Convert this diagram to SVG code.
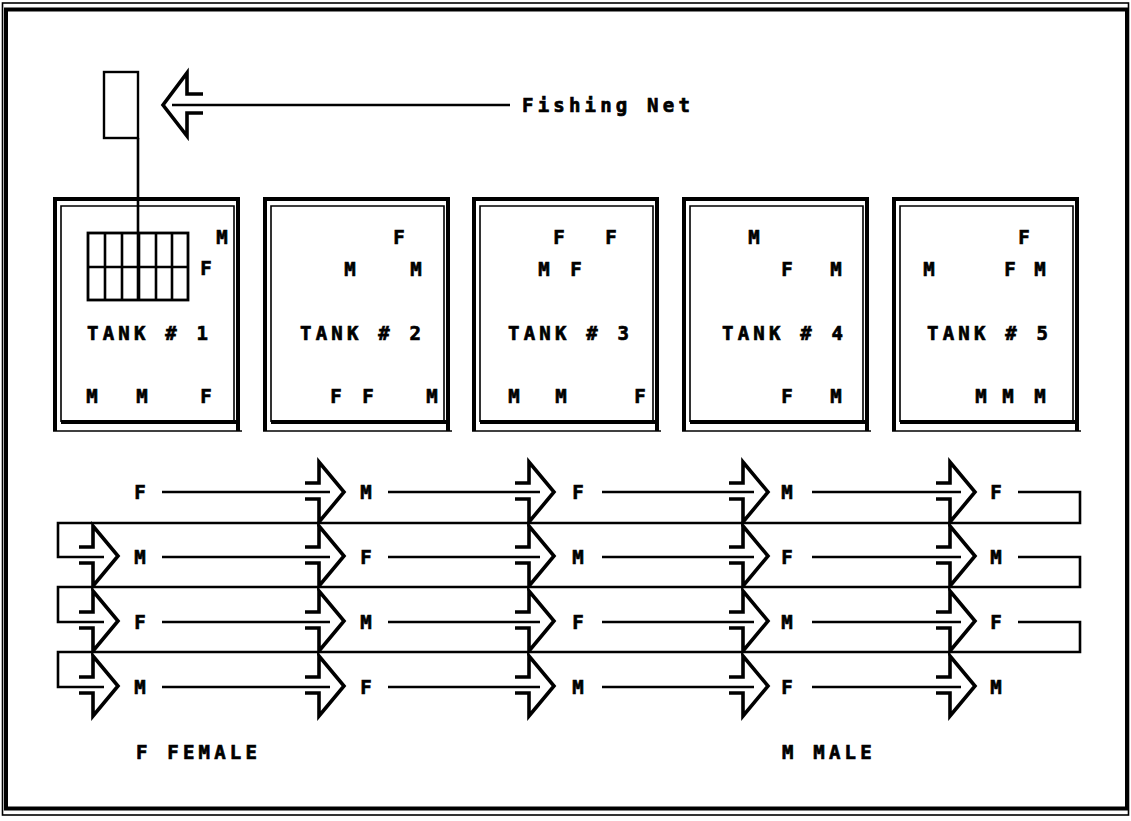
<svg xmlns="http://www.w3.org/2000/svg" xmlns:xlink="http://www.w3.org/1999/xlink" width="1131" height="821" viewBox="0 0 1131 821">
<style>
  .t{font-family:"DejaVu Sans Mono","Liberation Mono",monospace;font-weight:bold;font-size:19px;fill:#000;stroke:#000;stroke-width:0.7}
  .c{text-anchor:middle}
  .sp{letter-spacing:4.2px}
  .thick{fill:none;stroke:#000;stroke-width:4}
  .thin{fill:none;stroke:#000;stroke-width:1.6}
  .ln{fill:none;stroke:#000;stroke-width:2.6}
  .arr{fill:none;stroke:#000;stroke-width:3.6;stroke-linejoin:miter}
</style>
<defs>
  <path id="ra" class="arr" d="M -14,-9 H 0 V -30 L 25,0 L 0,30 V 7 H -14"/>
  <g id="tankframe">
    <path class="thick" d="M 2,234 V 2 H 185 V 234"/>
    <path class="thin" d="M 0,234 H 189"/>
    <path class="thin" d="M 8,225 V 9 H 181 V 225"/>
    <path class="thick" d="M 8,225 H 183"/>
  </g>
</defs>
<rect width="1131" height="821" fill="#fff"/>
<g id="border">
  <rect class="thin" x="2.5" y="3" width="1126" height="812"/>
  <rect class="thick" x="6" y="9.5" width="1121" height="799"/>
</g>
<g id="net">
  <rect x="104" y="72" width="34" height="66" fill="none" stroke="#000" stroke-width="2.4"/>
  <line class="ln" x1="138" y1="138" x2="138" y2="300"/>
  <rect x="88" y="233" width="100" height="67" fill="none" stroke="#000" stroke-width="2.8"/>
  <path class="ln" d="M 88,267 H 188 M 105,233 V 300 M 122,233 V 300 M 139,233 V 300 M 156,233 V 300 M 172,233 V 300"/>
</g>
<g id="fishing-net-label">
  <path class="arr" d="M 203,94 H 187 V 73 L 163,105 L 187,136 V 113 H 203"/>
  <line class="ln" x1="172" y1="105" x2="510" y2="105"/>
  <text class="t sp" x="522" y="112">Fishing Net</text>
</g>
<g id="tank1">
  <use xlink:href="#tankframe" x="53" y="197"/>
  <text class="t sp" x="87" y="340">TANK # 1</text>
  <text class="t c" x="222" y="244">M</text>
  <text class="t c" x="206" y="275">F</text>
  <text class="t c" x="92" y="403">M</text>
  <text class="t c" x="142" y="403">M</text>
  <text class="t c" x="206" y="403">F</text>
</g>
<g id="tank2">
  <use xlink:href="#tankframe" x="263" y="197"/>
  <text class="t sp" x="300" y="340">TANK # 2</text>
  <text class="t c" x="399" y="244">F</text>
  <text class="t c" x="350" y="276">M</text>
  <text class="t c" x="416" y="276">M</text>
  <text class="t c" x="336" y="403">F</text>
  <text class="t c" x="368" y="403">F</text>
  <text class="t c" x="432" y="403">M</text>
</g>
<g id="tank3">
  <use xlink:href="#tankframe" x="472" y="197"/>
  <text class="t sp" x="508" y="340">TANK # 3</text>
  <text class="t c" x="559" y="244">F</text>
  <text class="t c" x="611" y="244">F</text>
  <text class="t c" x="544" y="276">M</text>
  <text class="t c" x="576" y="276">F</text>
  <text class="t c" x="514" y="403">M</text>
  <text class="t c" x="561" y="403">M</text>
  <text class="t c" x="640" y="403">F</text>
</g>
<g id="tank4">
  <use xlink:href="#tankframe" x="682" y="197"/>
  <text class="t sp" x="722" y="340">TANK # 4</text>
  <text class="t c" x="754" y="244">M</text>
  <text class="t c" x="787" y="276">F</text>
  <text class="t c" x="836" y="276">M</text>
  <text class="t c" x="787" y="403">F</text>
  <text class="t c" x="836" y="403">M</text>
</g>
<g id="tank5">
  <use xlink:href="#tankframe" x="892" y="197"/>
  <text class="t sp" x="927" y="340">TANK # 5</text>
  <text class="t c" x="1024" y="244">F</text>
  <text class="t c" x="929" y="276">M</text>
  <text class="t c" x="1010" y="276">F</text>
  <text class="t c" x="1040" y="276">M</text>
  <text class="t c" x="981" y="403">M</text>
  <text class="t c" x="1008" y="403">M</text>
  <text class="t c" x="1040" y="403">M</text>
</g>
<g id="connectors">
  <path class="ln" d="M 162,492 H 330 M 388,492 H 540 M 602,492 H 754 M 812,492 H 961 M 1018,492 H 1080 V 523 H 58 V 557 H 104"/>
  <path class="ln" d="M 162,557 H 330 M 388,557 H 540 M 602,557 H 754 M 812,557 H 961 M 1018,557 H 1080 V 587 H 58 V 622 H 104"/>
  <path class="ln" d="M 162,622 H 330 M 388,622 H 540 M 602,622 H 754 M 812,622 H 961 M 1018,622 H 1080 V 652 H 58 V 687 H 104"/>
  <path class="ln" d="M 162,687 H 330 M 388,687 H 540 M 602,687 H 754 M 812,687 H 961"/>
  <use xlink:href="#ra" x="319" y="492"/><use xlink:href="#ra" x="529" y="492"/><use xlink:href="#ra" x="743" y="492"/><use xlink:href="#ra" x="950" y="492"/>
  <use xlink:href="#ra" x="93" y="556"/><use xlink:href="#ra" x="319" y="556"/><use xlink:href="#ra" x="529" y="556"/><use xlink:href="#ra" x="743" y="556"/><use xlink:href="#ra" x="950" y="556"/>
  <use xlink:href="#ra" x="93" y="621"/><use xlink:href="#ra" x="319" y="621"/><use xlink:href="#ra" x="529" y="621"/><use xlink:href="#ra" x="743" y="621"/><use xlink:href="#ra" x="950" y="621"/>
  <use xlink:href="#ra" x="93" y="686"/><use xlink:href="#ra" x="319" y="686"/><use xlink:href="#ra" x="529" y="686"/><use xlink:href="#ra" x="743" y="686"/><use xlink:href="#ra" x="950" y="686"/>
</g>
<g id="row-labels">
  <text class="t c" x="140" y="499">F</text><text class="t c" x="366" y="499">M</text><text class="t c" x="578" y="499">F</text><text class="t c" x="787" y="499">M</text><text class="t c" x="996" y="499">F</text>
  <text class="t c" x="140" y="564">M</text><text class="t c" x="366" y="564">F</text><text class="t c" x="578" y="564">M</text><text class="t c" x="787" y="564">F</text><text class="t c" x="996" y="564">M</text>
  <text class="t c" x="140" y="629">F</text><text class="t c" x="366" y="629">M</text><text class="t c" x="578" y="629">F</text><text class="t c" x="787" y="629">M</text><text class="t c" x="996" y="629">F</text>
  <text class="t c" x="140" y="694">M</text><text class="t c" x="366" y="694">F</text><text class="t c" x="578" y="694">M</text><text class="t c" x="787" y="694">F</text><text class="t c" x="996" y="694">M</text>
</g>
<g id="legend">
  <text class="t sp" x="136" y="759" xml:space="preserve">F FEMALE</text>
  <text class="t sp" x="782" y="759" xml:space="preserve">M MALE</text>
</g>
</svg>
